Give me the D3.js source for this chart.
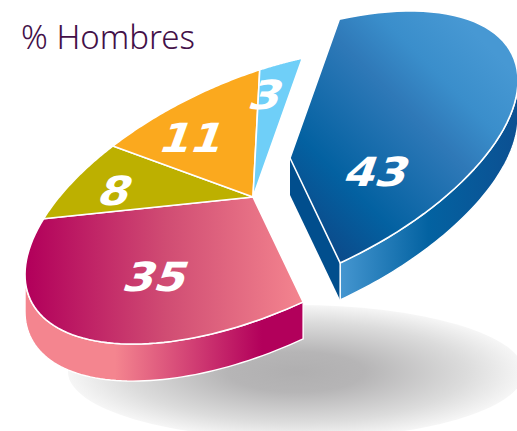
<!DOCTYPE html>
<html>
<head>
<meta charset="utf-8">
<script src="https://cdn.jsdelivr.net/npm/d3@7"></script>
<style>
  html, body { margin: 0; padding: 0; background: #fff; }
  svg { display: block; }
</style>
</head>
<body>
<svg id="chart" width="517" height="431"></svg>
<script>
// Share of men per category, in drawing order
const categories = ["Azul", "Rosa", "Oliva", "Naranja", "Celeste"];
const values = [43, 35, 8, 11, 3];
const exploded = [true, false, false, false, false];

// Flat fill for the slices without a gradient, gradient id for the others
const topFills = ["url(#blueTop)", "url(#pinkTop)", "#bdb000", "#fba91e", "#6fcff8"];
const wallFills = ["url(#blueWall)", "url(#pinkWall)", null, null, null];
// Where each number sits relative to the pie centre
const labelOffsets = [[125, -25], [-96, 80], [-137, -6], [-60, -59], [14, -102]];

const width = 517, height = 431;
const center = { x: 253, y: 197 };
const explodeShift = { x: 37, y: -39 };
const depth = 37;
const startDeg = 282.5;

// Tilted disc: a point at angle t on the unit circle mapped to page coordinates
const radiusX = 228, shearY = -77.5, radiusY = 125;
function project(t, origin) {
  return [
    origin[0] + radiusX * Math.cos(t),
    origin[1] + shearY * Math.cos(t) + radiusY * Math.sin(t)
  ];
}

const svg = d3.select("#chart");
const defs = svg.append("defs");

function linearGradient(id, x1, y1, x2, y2, stops) {
  const g = defs.append("linearGradient").attr("id", id)
    .attr("gradientUnits", "userSpaceOnUse")
    .attr("x1", x1).attr("y1", y1).attr("x2", x2).attr("y2", y2);
  stops.forEach(([o, c]) => g.append("stop").attr("offset", o).attr("stop-color", c));
}
linearGradient("pinkTop", 28, 0, 303, 0, [[0, "#b2005b"], [0.5, "#d04c73"], [1, "#f4858f"]]);
linearGradient("pinkWall", 115, 0, 262, 0, [[0, "#f4858f"], [1, "#b2005b"]]);
linearGradient("blueTop", 339, 255, 518, 76, [[0, "#0b4c8c"], [0.22, "#0361a1"], [0.6, "#2f79b8"], [0.78, "#3a8ecb"], [1, "#4798d3"]]);
linearGradient("blueWall", 340, 0, 517, 0, [[0, "#4596d0"], [0.5, "#0362a1"], [1, "#0c5092"]]);

const shadowGradient = defs.append("radialGradient").attr("id", "shadow");
[[0, "#b0afb0"], [0.3, "#b6b5b6"], [0.75, "#dcdcdc"], [1, "#f6f6f6"]]
  .forEach(([o, c]) => shadowGradient.append("stop").attr("offset", o).attr("stop-color", c));

svg.append("ellipse")
  .attr("cx", 296).attr("cy", 372).attr("rx", 228).attr("ry", 67)
  .attr("fill", "url(#shadow)");

const slices = d3.pie().sort(null)
  .startAngle(startDeg * Math.PI / 180)
  .endAngle(startDeg * Math.PI / 180 + 2 * Math.PI)(values);

const line = d3.line();
const rim = (a, b, origin) => d3.range(0, 61).map(i => project(a + (b - a) * i / 60, origin));

// Outer wall segments that face the viewer: rim angles between 0° and 180°
function visibleWall(a, b) {
  const out = [];
  for (let k = 0; k <= 1; k++) {
    const lo = Math.max(a, k * 2 * Math.PI), hi = Math.min(b, k * 2 * Math.PI + Math.PI);
    if (hi > lo) out.push([lo, hi]);
  }
  return out;
}

svg.selectAll("g.slice").data(slices).join("g")
  .attr("class", "slice")
  .each(function (d, i) {
    const g = d3.select(this);
    const origin = exploded[i]
      ? [center.x + explodeShift.x, center.y + explodeShift.y]
      : [center.x, center.y];
    if (wallFills[i]) {
      visibleWall(d.startAngle, d.endAngle).forEach(([lo, hi]) => {
        const upper = rim(lo, hi, origin);
        const lower = upper.map(([x, y]) => [x, y + depth]).reverse();
        g.append("path").attr("d", line(upper.concat(lower)) + "Z")
          .attr("fill", wallFills[i]).attr("stroke", "#fff").attr("stroke-width", 1.4)
          .attr("stroke-linejoin", "round");
      });
    }
    if (exploded[i]) {
      // Cut face along the slice's closing edge, the one turned towards the viewer
      const [ex, ey] = project(d.endAngle, origin);
      g.append("path")
        .attr("d", line([origin, [ex, ey], [ex, ey + depth], [origin[0], origin[1] + depth]]) + "Z")
        .attr("fill", "#014e8d").attr("stroke", "none");
      g.append("path").attr("d", line([[ex, ey], [ex, ey + depth]]))
        .attr("stroke", "#fff").attr("stroke-width", 1.4);
    }
    const pts = [origin].concat(rim(d.startAngle, d.endAngle, origin));
    g.append("path").attr("d", line(pts) + "Z")
      .attr("fill", topFills[i])
      .attr("stroke", "#fff").attr("stroke-width", 1.6).attr("stroke-linejoin", "round");
  });

// Slice numbers, slanted and widened to lie on the disc
svg.selectAll("text.value").data(slices).join("text")
  .attr("class", "value")
  .attr("transform", (d, i) => `translate(${center.x + labelOffsets[i][0]},${center.y + labelOffsets[i][1]}) skewX(-20) scale(1.13,1)`)
  .attr("text-anchor", "middle")
  .attr("dominant-baseline", "central")
  .attr("font-family", "'DejaVu Sans', sans-serif")
  .attr("font-weight", "bold")
  .attr("font-size", 40)
  .attr("fill", "#fff")
  .text(d => d.value);

svg.append("text")
  .attr("x", 21).attr("y", 49)
  .attr("font-family", "'Noto Sans', sans-serif")
  .attr("font-weight", 300)
  .attr("font-size", 33)
  .attr("fill", "#431048")
  .text("% Hombres");
</script>
</body>
</html>
